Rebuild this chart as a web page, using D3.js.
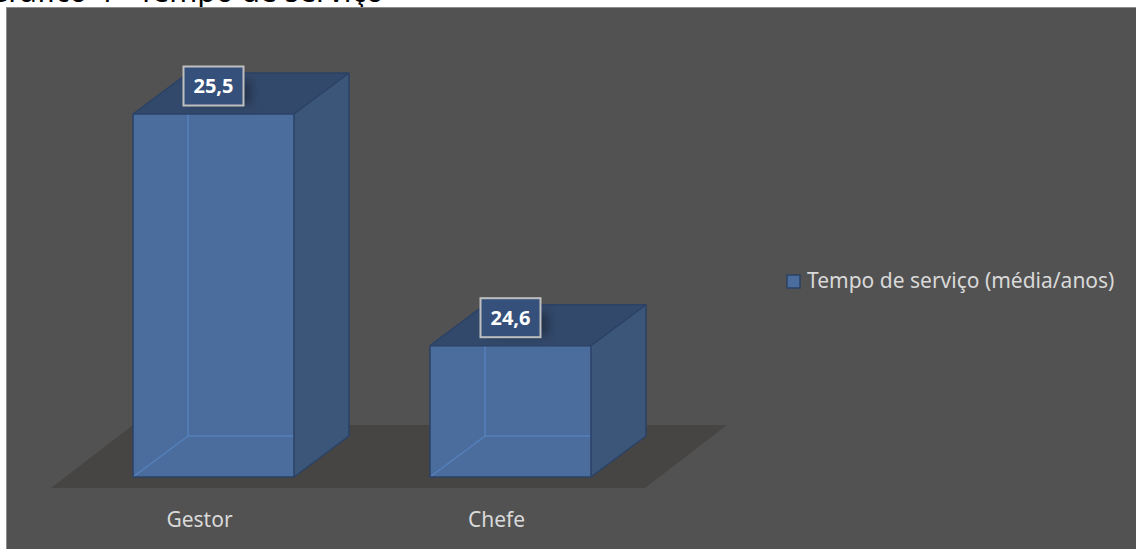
<!DOCTYPE html>
<html>
<head>
<meta charset="utf-8">
<script src="https://cdn.jsdelivr.net/npm/d3@7"></script>
<style>
  body { margin: 0; background: #fff; }
  svg { display: block; }
</style>
</head>
<body>
<div class="canvas"></div>
<script>
// chart data
const categories = ['Gestor', 'Chefe'];
const values = [25.5, 24.6];
const labels = ['25,5', '24,6'];
const seriesName = 'Tempo de serviço (média/anos)';
const title = 'Gráfico 4 - Tempo de serviço';
const axisMin = 24.09;

const dims = { width: 1136, height: 549 };

const svg = d3.select('.canvas')
    .append('svg')
    .attr('width', dims.width)
    .attr('height', dims.height)
    .style('font-family', '"Noto Sans", "Open Sans", sans-serif');

const defs = svg.append('defs');
defs.append('filter').attr('id', 'blur')
    .attr('x', '-50%').attr('y', '-50%').attr('width', '200%').attr('height', '200%')
    .append('feGaussianBlur').attr('stdDeviation', 5);

// title strip at the top (only its lower edge shows, as in the source image)
svg.append('text')
    .attr('x', 384)
    .attr('y', 2)
    .attr('text-anchor', 'end')
    .attr('font-size', 30)
    .attr('fill', '#000')
    .text(title);

// chart area
svg.append('rect')
    .attr('x', 6.5).attr('y', 7.5)
    .attr('width', dims.width).attr('height', dims.height)
    .attr('fill', '#525252')
    .attr('stroke', '#8c8c8c')
    .attr('stroke-width', 1);

// scales
const x = d3.scaleBand()
    .domain(categories)
    .range([65, 659])
    .paddingInner(0.458)
    .paddingOuter(0.229);

const y = d3.scaleLinear()
    .domain([axisMin, values[0]])
    .range([477, 114]);

// 3d depth offsets
const barDepth = { dx: 55, dy: -41 };
const floorFront = { dx: -14, dy: 11 };
const floorDepth = { dx: 82, dy: -63 };

const base = y(axisMin);
const graph = svg.append('g');

// floor
const fx0 = x.range()[0] + floorFront.dx, fx1 = x.range()[1] + floorFront.dx;
const fy = base + floorFront.dy;
graph.append('path')
    .attr('fill', '#464543')
    .attr('d', `M${fx0},${fy}L${fx1},${fy}L${fx1 + floorDepth.dx},${fy + floorDepth.dy}L${fx0 + floorDepth.dx},${fy + floorDepth.dy}Z`);

const edge = '#2b4266';

const bars = graph.selectAll('.bar')
    .data(categories.map((c, i) => ({ name: c, value: values[i], label: labels[i] })))
    .enter()
    .append('g')
    .attr('class', 'bar');

// front face
bars.append('rect')
    .attr('x', d => x(d.name))
    .attr('y', d => y(d.value))
    .attr('width', x.bandwidth())
    .attr('height', d => base - y(d.value))
    .attr('fill', '#4a6d9e');

// right face
bars.append('path')
    .attr('fill', '#3b5679')
    .attr('d', d => {
        const x1 = x(d.name) + x.bandwidth(), yt = y(d.value);
        return `M${x1},${yt}L${x1 + barDepth.dx},${yt + barDepth.dy}L${x1 + barDepth.dx},${base + barDepth.dy}L${x1},${base}Z`;
    });

// top face
bars.append('path')
    .attr('fill', '#33496b')
    .attr('d', d => {
        const x0 = x(d.name), x1 = x0 + x.bandwidth(), yt = y(d.value);
        return `M${x0},${yt}L${x1},${yt}L${x1 + barDepth.dx},${yt + barDepth.dy}L${x0 + barDepth.dx},${yt + barDepth.dy}Z`;
    });

// hidden edges seen through the front face
bars.append('path')
    .attr('fill', 'none')
    .attr('stroke', '#5a86c2')
    .attr('stroke-opacity', 0.8)
    .attr('stroke-width', 1.5)
    .attr('d', d => {
        const x0 = x(d.name), x1 = x0 + x.bandwidth(), yt = y(d.value);
        const bx = x0 + barDepth.dx, by = base + barDepth.dy;
        return `M${bx},${yt}L${bx},${by}L${x1},${by}M${x0},${base}L${bx},${by}`;
    });

// outline of the visible edges
bars.append('path')
    .attr('fill', 'none')
    .attr('stroke', edge)
    .attr('stroke-width', 1.5)
    .attr('stroke-linejoin', 'round')
    .attr('d', d => {
        const x0 = x(d.name), x1 = x0 + x.bandwidth(), yt = y(d.value);
        const dx = barDepth.dx, dy = barDepth.dy;
        return `M${x0},${base}L${x0},${yt}L${x0 + dx},${yt + dy}L${x1 + dx},${yt + dy}L${x1 + dx},${base + dy}L${x1},${base}Z` +
            `M${x0},${yt}L${x1},${yt}L${x1},${base}M${x1},${yt}L${x1 + dx},${yt + dy}`;
    });

// data labels
const boxW = 60, boxH = 39;
bars.append('rect')
    .attr('x', d => x(d.name) + x.bandwidth() / 2 - boxW / 2 + 8)
    .attr('y', d => y(d.value) - 28 - boxH / 2 + 14)
    .attr('width', boxW)
    .attr('height', boxH / 2 + 4)
    .attr('fill', '#000')
    .attr('opacity', 0.3)
    .attr('filter', 'url(#blur)');

bars.append('rect')
    .attr('x', d => x(d.name) + x.bandwidth() / 2 - boxW / 2)
    .attr('y', d => y(d.value) - 28 - boxH / 2)
    .attr('width', boxW)
    .attr('height', boxH)
    .attr('fill', '#35507a')
    .attr('stroke', '#bfbfbf')
    .attr('stroke-width', 2);

bars.append('text')
    .attr('x', d => x(d.name) + x.bandwidth() / 2)
    .attr('y', d => y(d.value) - 28 + 7)
    .attr('text-anchor', 'middle')
    .attr('font-size', 20)
    .attr('font-weight', 'bold')
    .attr('fill', '#fff')
    .text(d => d.label);

// category labels
svg.selectAll('.cat')
    .data(categories)
    .enter()
    .append('text')
    .attr('class', 'cat')
    .attr('x', d => x(d) + x.bandwidth() / 2 + floorFront.dx)
    .attr('y', 527)
    .attr('text-anchor', 'middle')
    .attr('font-size', 21)
    .attr('fill', '#d9d9d9')
    .text(d => d);

// legend
const legend = svg.append('g').attr('transform', 'translate(787, 275)');
legend.append('rect')
    .attr('width', 13).attr('height', 13)
    .attr('fill', '#4a6d9e')
    .attr('stroke', edge)
    .attr('stroke-width', 1.5);
legend.append('text')
    .attr('x', 20)
    .attr('y', 13)
    .attr('font-size', 21)
    .attr('fill', '#d9d9d9')
    .text(seriesName);
</script>
</body>
</html>
